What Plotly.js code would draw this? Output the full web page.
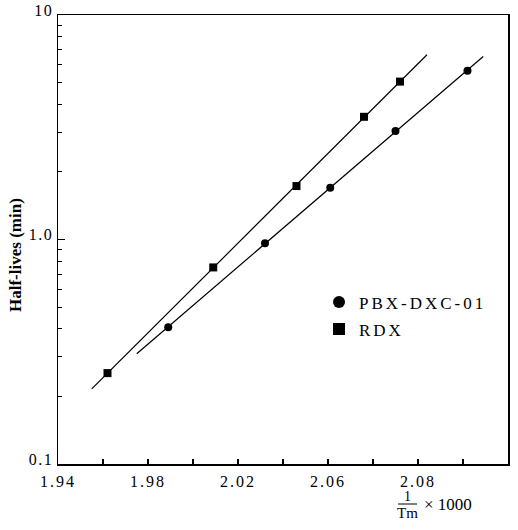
<!DOCTYPE html>
<html>
<head>
<meta charset="utf-8">
<script src="https://cdn.plot.ly/plotly-3.0.1.min.js"></script>
<style>
html,body{margin:0;padding:0;background:#fff;}
#chart{width:518px;height:530px;}
.legendtext{letter-spacing:3px;}
.xtick text{letter-spacing:2px;}
.ytick text{letter-spacing:1.5px;}
</style>
</head>
<body>
<div id="chart"></div>
<script>
// Data
const seriesNames = ['PBX-DXC-01', 'RDX'];
const pbxX = [1.989, 2.032, 2.061, 2.090, 2.122];
const pbxY = [0.407, 0.962, 1.70, 3.04, 5.65];
const rdxX = [1.962, 2.009, 2.046, 2.076, 2.092];
const rdxY = [0.254, 0.751, 1.73, 3.52, 5.05];
// extent of the fitted straight lines (x)
const pbxFitRange = [1.975, 2.129];
const rdxFitRange = [1.955, 2.104];
// tick labels
const xTickVals = [1.94, 1.98, 2.02, 2.06, 2.10, 2.14];
const xTickText = ['1.94', '1.98', '2.02', '2.06', '2.08', '2.14'];
const yTickVals = [0.1, 1, 10];
const yTickText = ['0.1', '1.0', '10'];
const yTitle = 'Half-lives (min)';

function logFit(xs, ys, range) {
  const n = xs.length;
  const ly = ys.map(v => Math.log10(v));
  const mx = xs.reduce((a, b) => a + b, 0) / n;
  const my = ly.reduce((a, b) => a + b, 0) / n;
  let sxy = 0, sxx = 0;
  for (let i = 0; i < n; i++) { sxy += (xs[i] - mx) * (ly[i] - my); sxx += (xs[i] - mx) ** 2; }
  const b = sxy / sxx, a = my - b * mx;
  return { x: range, y: range.map(x => Math.pow(10, a + b * x)) };
}

const pbxFit = logFit(pbxX, pbxY, pbxFitRange);
const rdxFit = logFit(rdxX, rdxY, rdxFitRange);

const minorY = [];
for (const d of [0.1, 1]) for (let k = 2; k <= 9; k++) minorY.push(d * k);
const minorX = [];
for (let v = 1.96; v < 2.14; v += 0.04) minorX.push(+v.toFixed(2));

const serif = 'Liberation Serif, DejaVu Serif, serif';
// plot-area pixel helpers for the free-standing texts
const L = 58, T = 15, W = 450, H = 449;
const px = v => (v - L) / W;
const py = v => (T + H - v) / H;

const traces = [
  { x: pbxFit.x, y: pbxFit.y, mode: 'lines', line: { color: '#000', width: 1.2 }, showlegend: false, hoverinfo: 'skip' },
  { x: rdxFit.x, y: rdxFit.y, mode: 'lines', line: { color: '#000', width: 1.2 }, showlegend: false, hoverinfo: 'skip' },
  { x: pbxX, y: pbxY, mode: 'markers', name: seriesNames[0], legendgroup: 'a',
    marker: { symbol: 'circle', size: 8, color: '#000' } },
  { x: rdxX, y: rdxY, mode: 'markers', name: seriesNames[1], legendgroup: 'b',
    marker: { symbol: 'square', size: 8, color: '#000' } }
];

const layout = {
  width: 518, height: 530,
  margin: { l: L, r: 518 - L - W, t: T, b: 530 - T - H },
  paper_bgcolor: '#fff', plot_bgcolor: '#fff',
  font: { family: serif, color: '#000', size: 16 },
  showlegend: true,
  legend: {
    x: 0.58, y: 0.40, xanchor: 'left', yanchor: 'top',
    bgcolor: 'rgba(0,0,0,0)', itemsizing: 'constant',
    traceorder: 'grouped', tracegroupgap: 2,
    font: { family: serif, size: 17, color: '#000' }
  },
  xaxis: {
    type: 'linear', range: [1.94, 2.14001],
    tickmode: 'array', tickvals: xTickVals, ticktext: xTickText,
    ticks: 'inside', ticklen: 5, tickwidth: 1.2, tickcolor: '#000',
    ticklabelstandoff: 2,
    showline: true, linecolor: '#000', linewidth: 1.5, mirror: true,
    showgrid: false, zeroline: false,
    tickfont: { family: serif, size: 16, color: '#000' },
    minor: { tickmode: 'array', tickvals: minorX, ticks: 'inside', ticklen: 5, tickwidth: 1.2, tickcolor: '#000', showgrid: false }
  },
  yaxis: {
    type: 'log', range: [-1, 1],
    tickmode: 'array', tickvals: yTickVals, ticktext: yTickText,
    ticks: 'inside', ticklen: 7, tickwidth: 1.2, tickcolor: '#000',
    ticklabelshift: -5,
    showline: true, linecolor: '#000', linewidth: 1.5, mirror: true,
    showgrid: false, zeroline: false,
    tickfont: { family: serif, size: 16, color: '#000' },
    minor: { tickmode: 'array', tickvals: minorY, ticks: 'inside', ticklen: 4, tickwidth: 1, tickcolor: '#000', showgrid: false }
  },
  annotations: [
    { xref: 'paper', yref: 'paper', x: px(15), y: py(255), text: '<b>' + yTitle + '</b>', textangle: -90, showarrow: false,
      xanchor: 'center', yanchor: 'middle', font: { family: serif, size: 17, color: '#000' } },
    { xref: 'paper', yref: 'paper', x: px(407), y: py(496), text: '1', showarrow: false,
      xanchor: 'center', yanchor: 'middle', font: { family: serif, size: 14, color: '#000' } },
    { xref: 'paper', yref: 'paper', x: px(407), y: py(513), text: 'Tm', showarrow: false,
      xanchor: 'center', yanchor: 'middle', font: { family: serif, size: 15, color: '#000' } },
    { xref: 'paper', yref: 'paper', x: px(422), y: py(504), text: '× 1000', showarrow: false,
      xanchor: 'left', yanchor: 'middle', font: { family: serif, size: 17, color: '#000' } }
  ],
  shapes: [
    { type: 'line', xref: 'paper', yref: 'paper', x0: px(398), x1: px(417),
      y0: py(504), y1: py(504), line: { color: '#000', width: 1 } }
  ]
};

Plotly.newPlot('chart', traces, layout, { staticPlot: true, displayModeBar: false });
</script>
</body>
</html>
